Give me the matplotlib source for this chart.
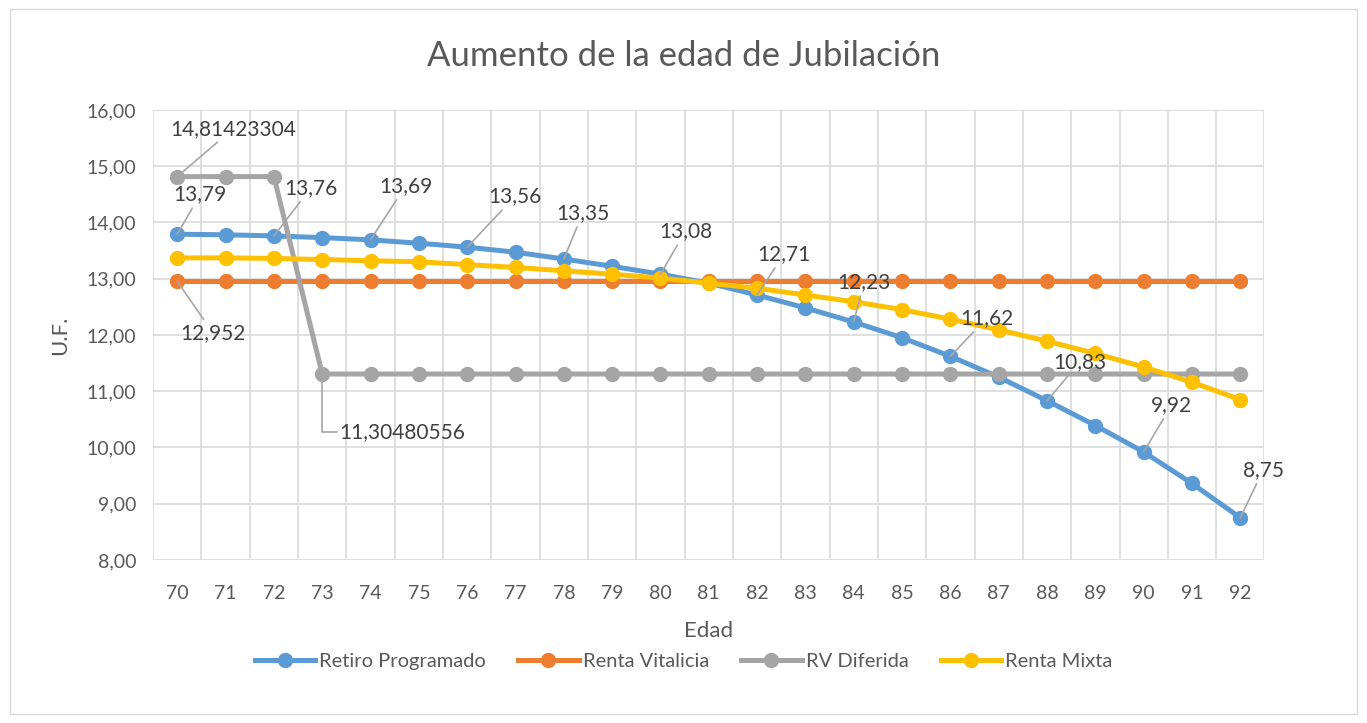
import numpy as np
import matplotlib.pyplot as plt
from matplotlib.patches import Rectangle

plt.rcParams['font.family'] = ['Lato', 'DejaVu Sans']

# data
edades = list(range(70, 93))
retiro_programado = [13.79, 13.78, 13.76, 13.73, 13.69, 13.63, 13.56, 13.47, 13.35, 13.22,
                     13.08, 12.92, 12.71, 12.48, 12.23, 11.95, 11.62, 11.25, 10.83, 10.39,
                     9.92, 9.36, 8.75]
renta_vitalicia = [12.952] * 23
rv_diferida = [14.81423304] * 3 + [11.30480556] * 20
renta_mixta = [13.37, 13.37, 13.36, 13.34, 13.32, 13.30, 13.25, 13.20, 13.14, 13.08,
               13.01, 12.92, 12.83, 12.71, 12.59, 12.45, 12.28, 12.09, 11.89, 11.67,
               11.43, 11.16, 10.85]

series = [
    ('Retiro Programado', retiro_programado, '#5B9BD5'),
    ('Renta Vitalicia', renta_vitalicia, '#ED7D31'),
    ('RV Diferida', rv_diferida, '#A5A5A5'),
    ('Renta Mixta', renta_mixta, '#FFC000'),
]

fig = plt.figure(figsize=(13.67, 7.23), dpi=100)
ax = fig.add_axes([0.112, 0.2255, 0.813, 0.6225])

x = np.arange(len(edades))
for name, vals, col in series:
    ax.plot(x, vals, color=col, lw=3.6, marker='o', ms=10, label=name, zorder=3)

ax.set_xlim(-0.5, len(edades) - 0.5)
ax.set_ylim(8, 16)
ax.set_xticks(x)
ax.set_xticklabels([str(e) for e in edades])
ax.set_xticks(np.arange(-0.5, len(edades), 1), minor=True)
ax.set_yticks(np.arange(8, 16.01, 1))
ax.set_yticklabels([f'{v:.2f}'.replace('.', ',') for v in np.arange(8, 16.01, 1)])
ax.tick_params(which='both', length=0, labelsize=14, colors='#595959')
ax.tick_params(axis='x', pad=18)
ax.tick_params(axis='y', pad=12)
ax.grid(True, which='minor', axis='x', color='#D9D9D9', lw=1.2)
ax.grid(True, which='major', axis='y', color='#D9D9D9', lw=1.2)
for s in ax.spines.values():
    s.set_visible(False)
ax.set_axisbelow(True)

ax.set_xlabel('Edad', fontsize=16, color='#595959', labelpad=14)
ax.set_ylabel('U.F.', fontsize=16, color='#595959', labelpad=12)
fig.text(0.5, 0.922, 'Aumento de la edad de Jubilación', ha='center', va='center',
         fontsize=25, color='#595959')

# data labels: (series values, index, text, dx, dy) in pixels
labels = [
    (rv_diferida, 0, '14,81423304', 56, 48),
    (retiro_programado, 0, '13,79', 23, 40),
    (retiro_programado, 2, '13,76', 37, 48),
    (retiro_programado, 4, '13,69', 35, 54),
    (retiro_programado, 6, '13,56', 48, 51),
    (retiro_programado, 8, '13,35', 19, 46),
    (retiro_programado, 10, '13,08', 25, 43),
    (retiro_programado, 12, '12,71', 27, 41),
    (retiro_programado, 14, '12,23', 10, 40),
    (retiro_programado, 16, '11,62', 36, 38),
    (retiro_programado, 18, '10,83', 33, 39),
    (retiro_programado, 20, '9,92', 28, 47),
    (retiro_programado, 22, '8,75', 23, 48),
    (renta_vitalicia, 0, '12,952', 36, -52),
]
for vals, i, txt, dx, dy in labels:
    ax.annotate(txt, xy=(i, vals[i]), xytext=(dx, dy), textcoords='offset pixels',
                ha='center', va='center', fontsize=15, color='#404040', zorder=5,
                arrowprops=dict(arrowstyle='-', color='#A6A6A6', lw=1.2,
                                shrinkA=1, shrinkB=0))

# label with elbow leader for the drop to 11,30
ax.annotate('11,30480556', xy=(3, rv_diferida[3]), xytext=(80, -58), textcoords='offset pixels',
            ha='center', va='center', fontsize=15, color='#404040', zorder=5,
            arrowprops=dict(arrowstyle='-', color='#A6A6A6', lw=1.2, shrinkA=0, shrinkB=0,
                            connectionstyle='angle,angleA=0,angleB=90,rad=0',
                            relpos=(0.0, 0.5)))

fig.legend(loc='center', bbox_to_anchor=(0.5, 0.085), ncol=4, frameon=False,
           fontsize=14.5, handlelength=3.0, columnspacing=1.6, handletextpad=0.2,
           labelcolor='#595959')

fig.patches.append(Rectangle((0.007, 0.012), 0.986, 0.975, transform=fig.transFigure,
                             fill=False, edgecolor='#D9D9D9', lw=1))

fig.savefig('out.png', dpi=100)
